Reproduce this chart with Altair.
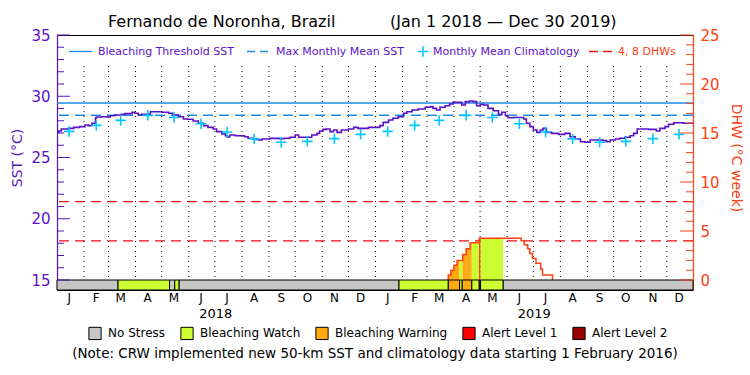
import altair as alt
import pandas as pd

# ---------------- data ----------------
# daily SST (sampled), day offset from 1 Jan 2018
sst_day = [0, 2, 5, 13, 19, 26, 32, 36, 40, 44, 45, 51, 57, 61, 66, 74, 78, 86, 89, 93,
           97, 101, 107, 112, 120, 128, 133, 139, 145, 150, 156, 162, 168, 173, 179, 183,
           189, 193, 195, 198, 204, 210, 215, 219, 225, 231, 235, 244, 254, 261, 267, 273,
           277, 286, 292, 298, 301, 305, 309, 313, 317, 321, 326, 334, 340, 345, 351, 357,
           363, 370, 374, 380, 385, 391, 397, 401, 407, 414, 422, 428, 431, 435, 439, 445,
           450, 454, 460, 464, 468, 473, 477, 481, 485, 489, 494, 500, 506, 510, 514, 517,
           523, 531, 535, 538, 542, 546, 550, 554, 557, 561, 567, 575, 582, 588, 594, 600,
           605, 611, 619, 626, 630, 634, 640, 645, 651, 657, 661, 665, 670, 678, 684, 687,
           691, 697, 701, 707, 713, 718, 725, 729]
sst_val = [27.03, 27.16, 27.33, 27.38, 27.46, 27.52, 27.65, 27.60, 27.79, 28.20, 28.31, 28.33,
           28.31, 28.41, 28.47, 28.52, 28.58, 28.69, 28.61, 28.47, 28.52, 28.52, 28.74, 28.74,
           28.69, 28.61, 28.47, 28.33, 28.14, 28.12, 27.98, 27.79, 27.60, 27.46, 27.33, 27.11,
           26.92, 26.78, 26.67, 26.84, 26.78, 26.78, 26.70, 26.57, 26.48, 26.43, 26.51, 26.56,
           26.54, 26.57, 26.65, 26.84, 26.65, 26.65, 26.84, 26.97, 27.16, 27.30, 27.33, 27.11,
           27.24, 27.05, 27.24, 27.33, 27.46, 27.38, 27.38, 27.46, 27.46, 27.60, 27.87, 28.06,
           28.20, 28.33, 28.61, 28.74, 28.88, 28.96, 29.10, 29.15, 29.01, 28.88, 29.10, 29.23,
           29.37, 29.50, 29.50, 29.29, 29.56, 29.61, 29.56, 29.23, 29.34, 29.29, 29.01, 28.82,
           28.52, 28.69, 28.41, 28.25, 28.26, 28.26, 28.14, 27.79, 27.52, 27.24, 27.05, 27.24,
           27.38, 27.05, 26.97, 26.89, 26.97, 26.70, 26.51, 26.29, 26.24, 26.43, 26.43, 26.38,
           26.29, 26.43, 26.51, 26.57, 26.65, 26.78, 26.97, 27.33, 27.33, 27.30, 27.30, 27.16,
           27.38, 27.52, 27.71, 27.84, 27.84, 27.79, 27.79, 27.80]

# monthly mean climatology (Jan..Dec)
clim_val = [27.13, 27.62, 28.03, 28.44, 28.27, 27.76, 27.08, 26.52, 26.24, 26.32, 26.54, 26.89]
month_letters = ["J", "F", "M", "A", "M", "J", "J", "A", "S", "O", "N", "D"]
years = [2018, 2019]
mmm_sst = 28.45
threshold_sst = 29.45

# degree heating weeks (step values), day offset from 1 Jan 2018
dhw_day = [447, 448.5, 451.5, 455, 458.5, 465, 469, 473.5, 484, 532, 535.5, 539.5, 542, 545,
           549, 554.5, 556.5, 568]
dhw_val = [0, 0.5, 1.0, 1.5, 2.0, 2.6, 3.2, 3.8, 4.25, 4.0, 3.6, 3.2, 2.7, 2.2, 1.7, 1.1, 0.5, 0]
dhw_levels = [4, 8]

# bleaching alert stress levels
stress_start = [0, 70, 129, 135, 140, 392, 448.5, 461.5, 464.5, 475.5, 484, 485.5, 511.5]
stress_end = [70, 129, 135, 140, 392, 448.5, 461.5, 464.5, 475.5, 484, 485.5, 511.5, 729]
stress_level = ["No Stress", "Bleaching Watch", "No Stress", "Bleaching Watch", "No Stress",
                "Bleaching Watch", "Bleaching Warning", "Bleaching Watch", "Bleaching Warning",
                "Bleaching Watch", "Alert Level 1", "Bleaching Watch", "No Stress"]
levels = ["No Stress", "Bleaching Watch", "Bleaching Warning", "Alert Level 1", "Alert Level 2"]
level_colors = ["#c6c6c6", "#ccff33", "#ffaa11", "#ff0000", "#990000"]

sst_ticks_major = [15, 20, 25, 30, 35]
dhw_ticks_major = [0, 5, 10, 15, 20, 25]

# ---------------- derived tables ----------------
START = pd.Timestamp("2018-01-01")
END = pd.Timestamp("2019-12-31")
N_DAYS = (END - START).days

PURPLE = "#5a12c8"
BLUE = "#1e8ce6"
CYAN = "#00c8ff"
ORANGE = "#ff4010"
RED = "#e81010"
FONT = "DejaVu Sans"

W, H = 636, 255

sst_df = pd.DataFrame({"day": sst_day, "sst": sst_val})
mid_days = [(pd.Timestamp(y, m, 15) - START).days for y in years for m in range(1, 13)]
clim_df = pd.DataFrame({"day": mid_days, "sst": clim_val * len(years)})
month_df = pd.DataFrame({"day": mid_days, "label": month_letters * len(years)})
year_df = pd.DataFrame({"day": [(pd.Timestamp(y, 7, 2) - START).days for y in years],
                        "label": [str(y) for y in years]})
grid_df = pd.DataFrame({"day": [(d - START).days for d in
                                pd.date_range("2018-02-01", "2019-12-01", freq="MS")]})
dhw_df = pd.DataFrame({"day": dhw_day, "dhw": dhw_val})
stress_df = pd.DataFrame({"s": stress_start, "e": stress_end, "level": stress_level})
color_map = dict(zip(levels, level_colors))

fill_rows = []
for i in range(len(dhw_day) - 1):
    a, b, v = dhw_day[i], dhw_day[i + 1], dhw_val[i]
    if v <= 0:
        continue
    for s, e, lv in zip(stress_start, stress_end, stress_level):
        if lv == "No Stress":
            continue
        lo, hi = max(a, s), min(b, e)
        if hi > lo:
            fill_rows.append({"x": lo, "x2": hi, "v": v, "color": color_map[lv]})
fill_df = pd.DataFrame(fill_rows)

sst_minor = [v for v in range(15, 36) if v not in sst_ticks_major]
dhw_minor = [v for v in range(0, 26) if v not in dhw_ticks_major]

xs = alt.Scale(domain=[0, N_DAYS], nice=False, zero=False)
SST_DOM = [15 - 10 / 12.25, 35]
DHW_DOM = [-10 / 9.8, 25]


def sst_y(field, axis=None):
    return alt.Y(field, scale=alt.Scale(domain=SST_DOM, nice=False, zero=False), axis=axis)


def dhw_y(field, axis=None):
    return alt.Y(field, scale=alt.Scale(domain=DHW_DOM, nice=False, zero=False), axis=axis)


dummy = pd.DataFrame({"a": [0]})

sst_axis = alt.Axis(
    orient="left", values=sst_ticks_major, ticks=False, grid=False,
    domainColor=PURPLE, domainWidth=1.2, labelColor=PURPLE, labelFont=FONT,
    labelFontSize=15, labelPadding=7, labelOverlap=False,
    title="SST (°C)", titleColor=PURPLE, titleFont=FONT, titleFontSize=14,
    titleFontWeight="normal", titleX=-40, titleY=122.5, titleAngle=270,
    titleAlign="center", titleBaseline="middle")
dhw_axis = alt.Axis(
    orient="right", values=dhw_ticks_major, ticks=False, grid=False,
    domainColor=ORANGE, domainWidth=1.2, labelColor=ORANGE, labelFont=FONT,
    labelFontSize=15, labelPadding=7, labelOverlap=False,
    title="DHW (°C week)", titleColor=ORANGE, titleFont=FONT, titleFontSize=14,
    titleFontWeight="normal", titleX=42, titleY=122.5, titleAngle=90,
    titleAlign="center", titleBaseline="middle")

# ---------------- layers ----------------
thr = alt.Chart(pd.DataFrame({"v": [threshold_sst]})).mark_rule(color=BLUE, strokeWidth=1.3).encode(
    y=sst_y("v:Q", sst_axis))
mmm = alt.Chart(pd.DataFrame({"v": [mmm_sst]})).mark_rule(
    color=BLUE, strokeWidth=1.3, strokeDash=[10, 6]).encode(y=sst_y("v:Q"))
grid = alt.Chart(grid_df).mark_rule(color="black", strokeWidth=1, strokeDash=[1, 4]).encode(
    x=alt.X("day:Q", scale=xs, axis=None), y=alt.value(31), y2=alt.value(245))
sst_line = alt.Chart(sst_df).mark_line(color=PURPLE, strokeWidth=1.6, interpolate="step-after").encode(
    x=alt.X("day:Q", scale=xs, axis=None), y=sst_y("sst:Q"))
clim = alt.Chart(clim_df).mark_point(shape="M-1,0L1,0M0,-1L0,1", filled=False, size=110,
                                     strokeWidth=1.6, color=CYAN, opacity=1).encode(
    x=alt.X("day:Q", scale=xs, axis=None), y=sst_y("sst:Q"))
sst_tmin = alt.Chart(pd.DataFrame({"v": sst_minor})).mark_rule(color=PURPLE).encode(
    y=sst_y("v:Q"), x=alt.value(0), x2=alt.value(7))
sst_tmaj = alt.Chart(pd.DataFrame({"v": sst_ticks_major})).mark_rule(color=PURPLE).encode(
    y=sst_y("v:Q"), x=alt.value(0), x2=alt.value(13))

dhw_lines = alt.Chart(pd.DataFrame({"v": dhw_levels})).mark_rule(
    color=RED, strokeWidth=1.3, strokeDash=[10, 6]).encode(y=dhw_y("v:Q", dhw_axis))
fill = alt.Chart(fill_df).mark_rect().encode(
    x=alt.X("x:Q", scale=xs, axis=None), x2="x2:Q",
    y=dhw_y("v:Q"), y2=alt.value(245),
    color=alt.Color("color:N", scale=None))
dhw_line = alt.Chart(dhw_df).mark_line(color=ORANGE, strokeWidth=1.5, interpolate="step-after").encode(
    x=alt.X("day:Q", scale=xs, axis=None), y=dhw_y("dhw:Q"))
bar = alt.Chart(stress_df).mark_rect(stroke="black", strokeWidth=1).encode(
    x=alt.X("s:Q", scale=xs, axis=None), x2="e:Q",
    y=alt.value(245), y2=alt.value(255),
    color=alt.Color("level:N", scale=alt.Scale(domain=levels, range=level_colors),
                    legend=alt.Legend(orient="none", legendX=31, legendY=291,
                                      direction="horizontal", title=None, symbolType="square",
                                      symbolSize=150, symbolStrokeColor="black",
                                      symbolStrokeWidth=1, symbolOpacity=1,
                                      labelFont=FONT, labelFontSize=12, labelColor="black",
                                      labelOffset=6, columnPadding=12)))
dhw_tmin = alt.Chart(pd.DataFrame({"v": dhw_minor})).mark_rule(color=ORANGE).encode(
    y=dhw_y("v:Q"), x=alt.value(W - 7), x2=alt.value(W))
dhw_tmaj = alt.Chart(pd.DataFrame({"v": dhw_ticks_major})).mark_rule(color=ORANGE).encode(
    y=dhw_y("v:Q"), x=alt.value(W - 13), x2=alt.value(W))

months = alt.Chart(month_df).mark_text(font=FONT, fontSize=12, color="black", baseline="middle").encode(
    x=alt.X("day:Q", scale=xs, axis=None), y=alt.value(263), text="label:N")
yrs = alt.Chart(year_df).mark_text(font=FONT, fontSize=13, color="black", baseline="middle").encode(
    x=alt.X("day:Q", scale=xs, axis=None), y=alt.value(279), text="label:N")


def txt(s, x, y, size, color="black", align="left"):
    return alt.Chart(dummy).mark_text(font=FONT, fontSize=size, color=color, align=align,
                                      baseline="middle").encode(
        x=alt.value(x), y=alt.value(y), text=alt.value(s))


def seg(x1, x2, y, color, dash=None):
    kw = {"strokeDash": dash} if dash else {}
    return alt.Chart(dummy).mark_rule(color=color, strokeWidth=1.3, **kw).encode(
        x=alt.value(x1), x2=alt.value(x2), y=alt.value(y))


title1 = txt("Fernando de Noronha, Brazil", 51, -13, 16)
title2 = txt("(Jan 1 2018 — Dec 30 2019)", 333, -13, 16)
leg_y = 16.5
legend_items = [
    seg(12, 35, leg_y, BLUE),
    txt("Bleaching Threshold SST", 41, leg_y, 11, PURPLE),
    seg(190, 211, leg_y, BLUE, [8, 5]),
    txt("Max Monthly Mean SST", 219, leg_y, 11, PURPLE),
    alt.Chart(dummy).mark_point(shape="M-1,0L1,0M0,-1L0,1", filled=False, size=110,
                                strokeWidth=1.6, color=CYAN, opacity=1).encode(
        x=alt.value(366), y=alt.value(leg_y)),
    txt("Monthly Mean Climatology", 376, leg_y, 11, PURPLE),
    seg(532, 555, leg_y, RED, [9, 5]),
    txt("4, 8 DHWs", 561, leg_y, 11, ORANGE),
]
note = txt("(Note: CRW implemented new 50-km SST and climatology data starting 1 February 2016)",
           318, 319, 13.5, "black", "center")

chart = alt.layer(
    thr, dhw_lines, grid, mmm, sst_line, clim, fill, dhw_line, bar,
    sst_tmin, sst_tmaj, dhw_tmin, dhw_tmaj, months, yrs, title1, title2, note, *legend_items
).resolve_scale(y="independent").properties(
    width=W, height=H,
    padding={"left": 57, "top": 35, "right": 57, "bottom": 85},
    autosize=alt.AutoSizeParams(type="none"),
).configure_view(stroke="black", strokeWidth=1)

chart.save("out.html", embed_options={"renderer": "svg", "actions": False})
